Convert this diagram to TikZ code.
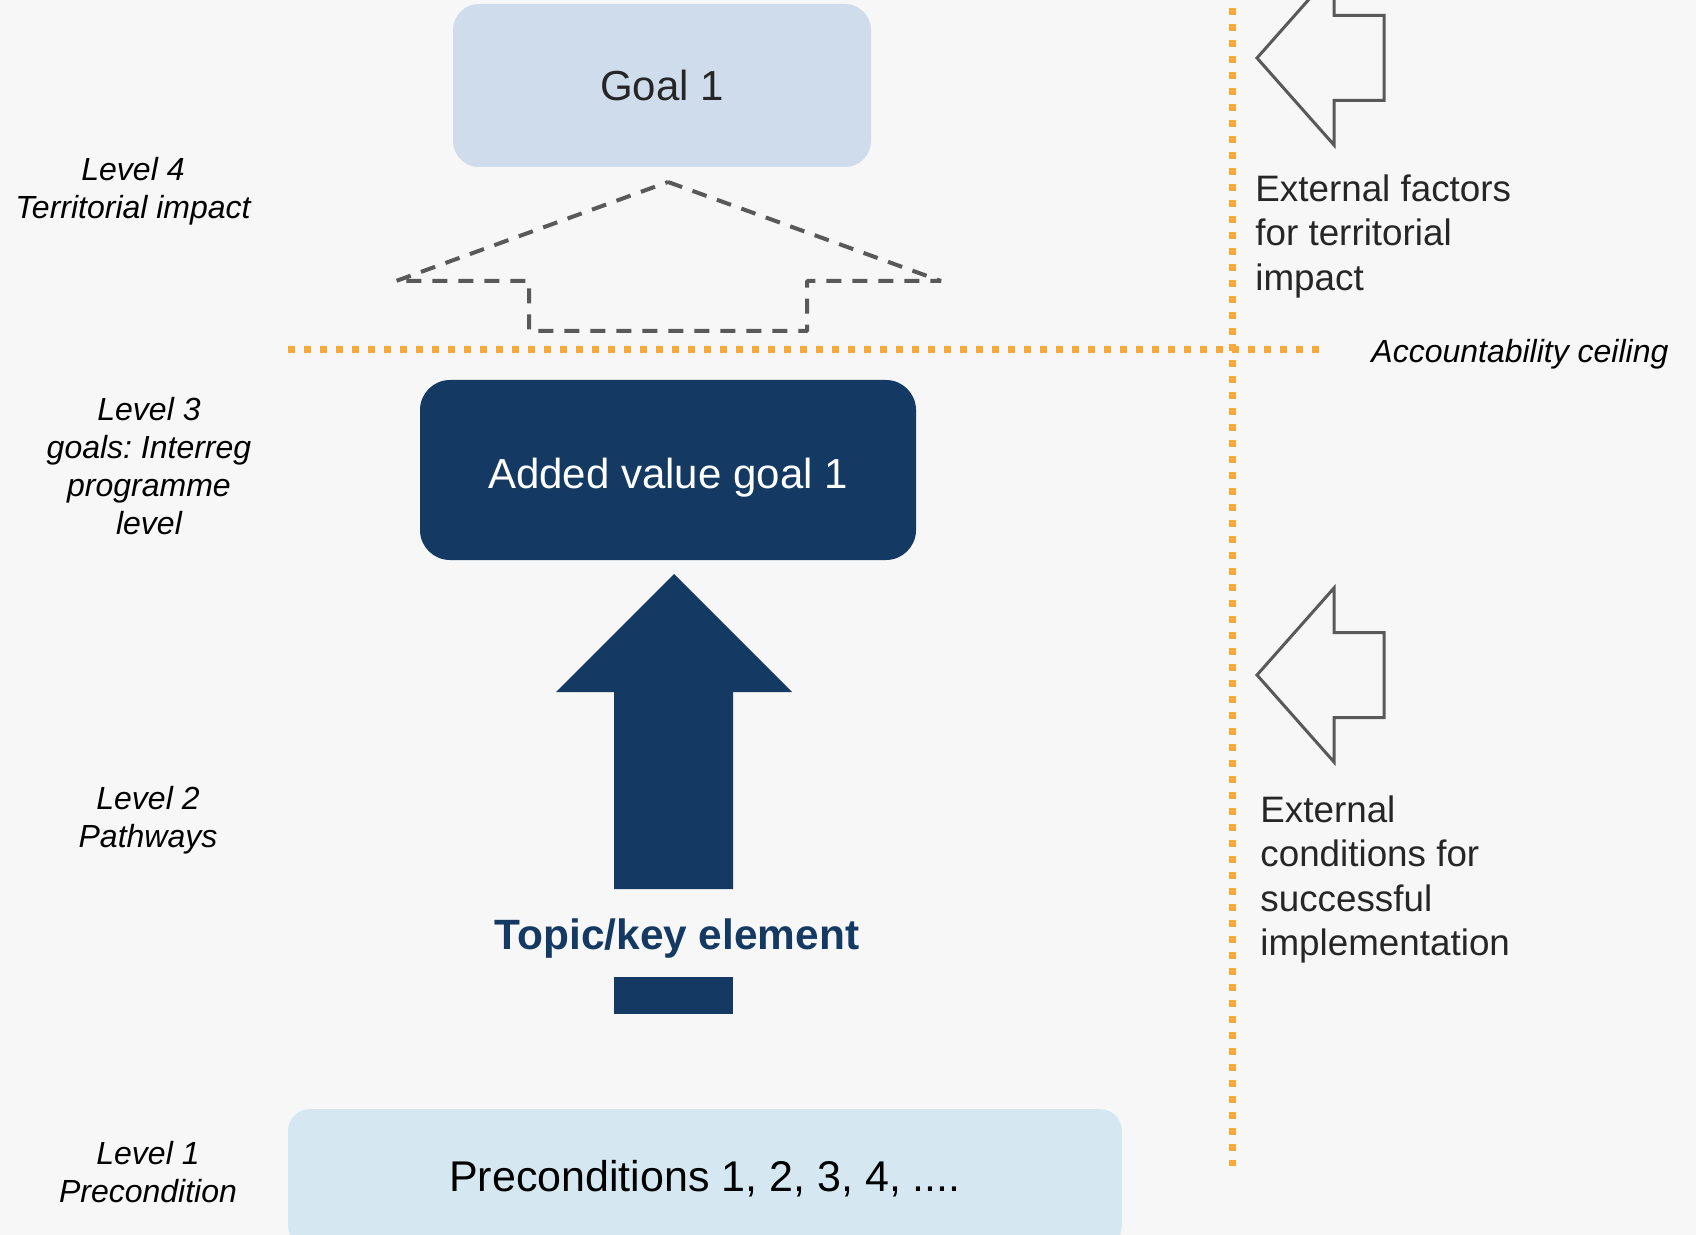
\documentclass[tikz,border=0pt]{standalone}
\usepackage{fontspec}
\setmainfont{Liberation Sans}
\definecolor{bgfill}{HTML}{F7F7F7}
\definecolor{goalfill}{HTML}{CFDCEB}
\definecolor{precfill}{HTML}{D5E8F2}
\definecolor{navy}{HTML}{143A63}
\definecolor{ceilorange}{HTML}{F9A93A}
\definecolor{outline}{HTML}{595959}
\definecolor{darktext}{HTML}{262626}
\tikzset{
    box/.style={inner sep=0pt, align=center, font=\fontsize{21}{25}\selectfont},
    sidetext/.style={inner sep=0pt, align=left, text=darktext, font=\fontsize{18.4}{22.25}\selectfont},
    leveltext/.style={inner sep=0pt, align=center, text=black, font=\fontsize{16}{19}\selectfont\itshape\frenchspacing},
    ceiling/.style={ceilorange, line width=3.5pt, dash pattern=on 3.5pt off 4.5pt},
    dashedarrow/.style={outline, line width=2pt, line join=bevel, dash pattern=on 7.5pt off 5.5pt},
    outarrow/.style={outline, line width=1.5pt, line join=miter}
}
\begin{document}
\begin{tikzpicture}[x=0.5pt,y=-0.5pt]
            \clip (0,0) rectangle (1696,1235);
            \fill[bgfill] (0,0) rectangle (1696,1235);
            % boxes
            \node[box, fill=goalfill, text=darktext, minimum width=209pt, minimum height=81.5pt, rounded corners=13pt] (goal) at (662,85.5) {Goal 1};
            \node[box, fill=navy, text=white, minimum width=248pt, minimum height=90pt, rounded corners=15pt, text height=18.5pt, text depth=0pt] (added) at (668,470) {Added value goal 1};
            \node[box, fill=precfill, text=black, minimum width=417pt, minimum height=69.2pt, rounded corners=11pt, font=\fontsize{21.5}{25}\selectfont] (precond) at (705,1178.3) {Preconditions 1, 2, 3, 4, ....};
            \node[box, text=navy, font=\fontsize{21.2}{25}\selectfont\bfseries] (topic) at (677,939) {Topic/key element};
            % dashed arrow up to goal
            \draw[dashedarrow] (668,182) -- (941,281) -- (807,281) -- (807,331) -- (529,331) -- (529,281) -- (396,281) -- cycle;
            % pathway arrow
            \fill[navy] (674,574) -- (792,692) -- (733,692) -- (733,889) -- (614,889) -- (614,692) -- (556,692) -- cycle;
            \fill[navy] (614,977) rectangle (733,1014);
            % accountability ceiling
            \draw[ceiling] (288,350) -- (1320,350);
            \draw[ceiling] (1232,8) -- (1232,1166);
            % external arrows
            \foreach \y in {58, 675} {
                \draw[outarrow] (1257,\y) -- (1334,\y-87) -- (1334,\y-42.5) -- (1384,\y-42.5)
                    -- (1384,\y+42.5) -- (1334,\y+42.5) -- (1334,\y+87) -- cycle;
            }
            \node[sidetext, anchor=north west] (factors) at (1255,174) {External factors\\for territorial\\impact};
            \node[sidetext, anchor=north west] (conditions) at (1260,795) {External\\conditions for\\successful\\implementation};
            \node[leveltext, anchor=base west] (ceil) at (1371,363) {Accountability ceiling};
            % levels
            \foreach \n/\x/\y/\txt in {4/133/191/Territorial impact, 3/149/466/goals: Interreg\\programme\\level, 2/148/820/Pathways, 1/148/1172/Precondition} {
                \node[leveltext] (level\n) at (\x, \y) {Level \n\\\txt};
            }
        \end{tikzpicture}
\end{document}
